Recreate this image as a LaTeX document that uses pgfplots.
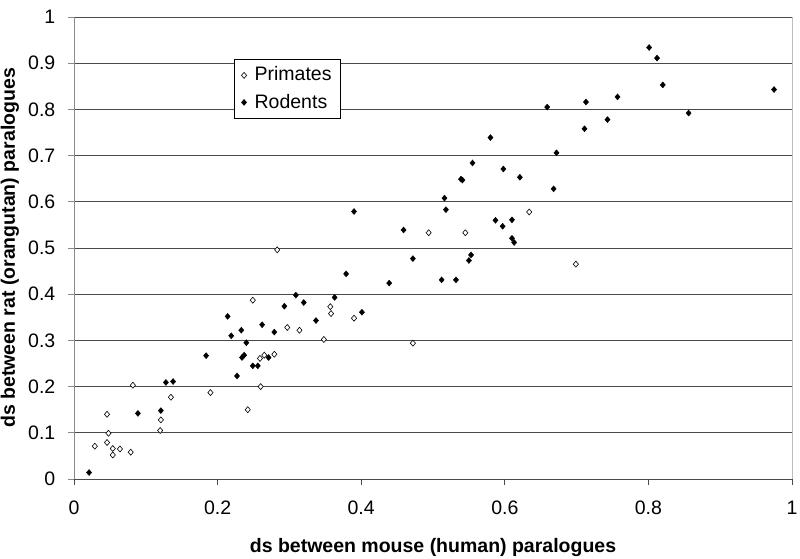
\documentclass[border=0pt]{standalone}
\usepackage{fontspec}
\setmainfont{Liberation Sans}
\usepackage{pgfplots}
\pgfplotsset{compat=1.18}
\definecolor{gridc}{HTML}{4A4A4A}
\definecolor{yaxc}{HTML}{8A8A8A}
\definecolor{borderc}{HTML}{BDBDBD}
\begin{document}
\fontsize{19.5}{23}\selectfont
\begin{tikzpicture}[x=1pt,y=1pt]
\useasboundingbox (-74,-80) rectangle (726,479);
\begin{axis}[
  at={(0,0)}, anchor=south west,
  scale only axis, width=718pt, height=462pt,
  xmin=0, xmax=1, ymin=0, ymax=1,
  xtick={0,0.2,0.4,0.6,0.8,1},
  ytick={0,0.1,0.2,0.3,0.4,0.5,0.6,0.7,0.8,0.9,1},
  xticklabels={0,0.2,0.4,0.6,0.8,1},
  yticklabels={0,0.1,0.2,0.3,0.4,0.5,0.6,0.7,0.8,0.9,1},
  axis x line*=bottom, axis y line*=left,
  x axis line style={color=gridc, line width=0.9pt, -},
  y axis line style={color=yaxc, line width=0.9pt, -},
  axis background/.style={draw=borderc, line width=0.9pt},
  tick align=outside, major tick length=6pt,
  x tick style={color=gridc, line width=0.9pt},
  y tick style={color=yaxc, line width=0.9pt},
  ymajorgrids, major grid style={color=gridc, line width=0.8pt},
  tick label style={font=\fontsize{19.5}{23}\selectfont},
  xticklabel style={anchor=center, yshift=-23pt},
  yticklabel style={anchor=east, xshift=-6pt},
  xlabel={ds between mouse (human) paralogues},
  ylabel={ds between rat (orangutan) paralogues},
  every axis x label/.style={at={(axis description cs:0.5,0)}, anchor=center, yshift=-68pt, font=\fontsize{19.5}{23}\selectfont\bfseries},
  every axis y label/.style={at={(axis description cs:0,0.5)}, rotate=90, anchor=center, yshift=64pt, font=\fontsize{19.5}{23}\selectfont\bfseries},
  legend style={at={(axis cs:0.223,0.908)}, anchor=north west, draw=black, line width=0.7pt, fill=white,
    font=\fontsize{19.5}{23}\selectfont, inner xsep=7pt, inner ysep=5pt, row sep=6pt,
    /tikz/every odd column/.append style={column sep=6pt}},
  legend cell align=left,
  legend image code/.code={\draw[#1] plot coordinates {(0pt,0pt)};},
  clip=false,
]
\addplot[only marks, mark=diamond*, mark size=3pt, mark options={fill=white, draw=black, line width=0.6pt, xscale=1.15}]
coordinates {
(0.029,0.071) (0.046,0.140) (0.048,0.099) (0.046,0.079) (0.054,0.066)
(0.054,0.052) (0.064,0.065) (0.079,0.058) (0.082,0.203) (0.121,0.128)
(0.120,0.105) (0.135,0.177) (0.190,0.187) (0.242,0.150) (0.283,0.496)
(0.249,0.387) (0.357,0.373) (0.358,0.358) (0.390,0.348) (0.297,0.328)
(0.314,0.322) (0.348,0.302) (0.259,0.261) (0.265,0.268) (0.279,0.270)
(0.472,0.294) (0.494,0.533) (0.545,0.533) (0.634,0.578) (0.699,0.465)
(0.260,0.200)
};
\addlegendentry{Primates}
\addplot[only marks, mark=diamond*, mark size=3pt, mark options={fill=black, draw=black, line width=0.4pt, xscale=1.15}]
coordinates {
(0.021,0.014) (0.089,0.142) (0.121,0.148) (0.128,0.209) (0.138,0.211)
(0.184,0.267) (0.219,0.310) (0.233,0.322) (0.240,0.295) (0.234,0.263)
(0.237,0.268) (0.249,0.245) (0.256,0.245) (0.227,0.223) (0.214,0.352)
(0.262,0.334) (0.279,0.318) (0.271,0.263) (0.293,0.374) (0.309,0.398)
(0.320,0.382) (0.337,0.343) (0.363,0.393) (0.379,0.444) (0.401,0.361)
(0.390,0.579) (0.439,0.424) (0.459,0.539) (0.472,0.477) (0.512,0.431)
(0.532,0.431) (0.516,0.608) (0.518,0.583) (0.550,0.473) (0.553,0.485)
(0.539,0.649) (0.541,0.647) (0.587,0.560) (0.597,0.547) (0.610,0.561)
(0.610,0.521) (0.613,0.512) (0.580,0.739) (0.598,0.671) (0.621,0.653)
(0.668,0.628) (0.672,0.706) (0.659,0.805) (0.711,0.758) (0.713,0.816)
(0.743,0.778) (0.757,0.827) (0.801,0.934) (0.812,0.911) (0.820,0.853)
(0.856,0.792) (0.975,0.843) (0.555,0.684)
};
\addlegendentry{Rodents}
\end{axis}
\end{tikzpicture}
\end{document}
